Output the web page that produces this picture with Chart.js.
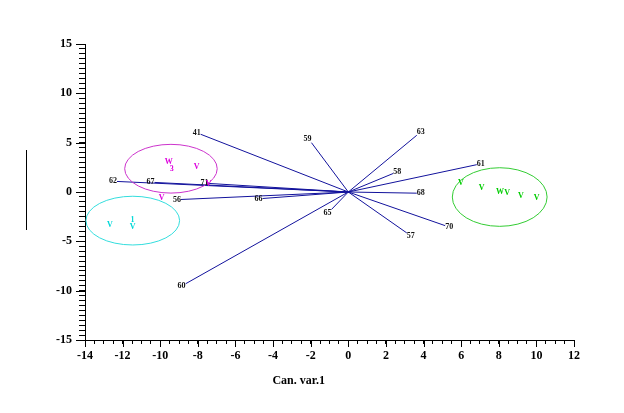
<!DOCTYPE html>
<html>
<head>
<meta charset="utf-8">
<script src="https://cdn.jsdelivr.net/npm/chart.js@4.4.0/dist/chart.umd.min.js"></script>
<style>
  body { margin: 0; background: #fff; }
</style>
</head>
<body>
<canvas id="can_chart" width="624" height="413"></canvas>
<script>
// vectors from the origin (variable loadings)
const vectorLabels = ['41', '59', '63', '58', '61', '68', '70', '57', '65', '60', '66', '56', '62', '67', '71'];
const vectorX = [-7.85, -1.96, 3.64, 2.39, 6.83, 3.64, 5.15, 3.11, -0.9, -8.65, -4.56, -8.9, -12.3, -10.3, -7.43];
const vectorY = [5.85, 5.0, 5.75, 1.88, 2.77, -0.12, -3.41, -4.15, -1.78, -9.3, -0.66, -0.76, 1.07, 0.97, 0.87];

// group scores, drawn as letters
const magentaX = [-9.55, -9.39, -8.06, -9.92, -7.43];
const magentaY = [3.0, 2.29, 2.59, -0.56, 0.86];
const magentaSym = ['W', '3', 'V', 'V', 'V'];

const cyanX = [-12.68, -11.47, -11.47];
const cyanY = [-3.31, -2.83, -3.58];
const cyanSym = ['V', '1', 'V'];

const greenX = [5.98, 7.09, 8.06, 8.45, 9.18, 10.01];
const greenY = [0.94, 0.39, -0.02, -0.05, -0.43, -0.63];
const greenSym = ['V', 'V', 'W', 'V', 'V', 'V'];

// confidence circles (data units)
const ellipseCX = [-9.43, -11.46, 8.05];
const ellipseCY = [2.36, -2.9, -0.51];
const ellipseRX = [2.46, 2.49, 2.52];
const ellipseRY = [2.47, 2.47, 2.97];
const ellipseColors = ['#cc33cc', '#33dddd', '#33cc33'];

const xMin = -14, xMax = 12, yMin = -15, yMax = 15;
const xTitle = 'Can. var.1';

const serif = '"Liberation Serif", "DejaVu Serif", serif';

function pts(xs, ys) {
  return xs.map((x, i) => ({ x: x, y: ys[i] }));
}

let datasets = [];
vectorLabels.forEach((lab, i) => {
  datasets.push({
    type: 'line',
    label: lab,
    data: [{ x: 0, y: 0 }, { x: vectorX[i], y: vectorY[i] }],
    borderColor: '#12129c',
    borderWidth: 1,
    pointRadius: 0,
    fill: false,
    vector: true
  });
});
datasets.push({ label: 'g1', data: pts(magentaX, magentaY), sym: magentaSym, color: '#dd00dd', pointRadius: 0 });
datasets.push({ label: 'g2', data: pts(cyanX, cyanY), sym: cyanSym, color: '#00d8d8', pointRadius: 0 });
datasets.push({ label: 'g3', data: pts(greenX, greenY), sym: greenSym, color: '#00cc00', pointRadius: 0 });

const extras = {
  id: 'extras',
  afterDatasetsDraw(chart) {
    const { ctx, chartArea: { left, right, top, bottom }, scales: { x, y } } = chart;
    ctx.save();

    // ellipses
    ellipseCX.forEach((cx, i) => {
      const px = x.getPixelForValue(cx), py = y.getPixelForValue(ellipseCY[i]);
      const rx = Math.abs(x.getPixelForValue(cx + ellipseRX[i]) - px);
      const ry = Math.abs(y.getPixelForValue(ellipseCY[i] + ellipseRY[i]) - py);
      ctx.beginPath();
      ctx.ellipse(px, py, rx, ry, 0, 0, Math.PI * 2);
      ctx.strokeStyle = ellipseColors[i];
      ctx.lineWidth = 1;
      ctx.stroke();
    });

    // vector labels
    ctx.font = 'bold 8px ' + serif;
    ctx.fillStyle = '#111';
    ctx.textBaseline = 'middle';
    vectorLabels.forEach((lab, i) => {
      const ex = x.getPixelForValue(vectorX[i]), ey = y.getPixelForValue(vectorY[i]);
      const ox = x.getPixelForValue(0), oy = y.getPixelForValue(0);
      const len = Math.hypot(ex - ox, ey - oy);
      const uy = (ey - oy) / len;
      ctx.textAlign = ex >= ox ? 'left' : 'right';
      ctx.fillText(lab, ex, ey + uy * 5);
    });

    // group letters
    ctx.font = 'bold 8px ' + serif;
    ctx.textAlign = 'center';
    chart.data.datasets.forEach((ds, di) => {
      if (!ds.sym) return;
      const meta = chart.getDatasetMeta(di);
      ctx.fillStyle = ds.color;
      meta.data.forEach((el, j) => {
        ctx.fillText(ds.sym[j], el.x, el.y);
      });
    });

    // longer major ticks
    ctx.strokeStyle = '#000';
    ctx.lineWidth = 1;
    ctx.beginPath();
    for (let v = xMin; v <= xMax; v += 2) {
      const px = Math.round(x.getPixelForValue(v)) + 0.5;
      ctx.moveTo(px, bottom);
      ctx.lineTo(px, bottom + 7);
    }
    for (let v = yMin; v <= yMax; v += 5) {
      const py = Math.round(y.getPixelForValue(v)) + 0.5;
      ctx.moveTo(left, py);
      ctx.lineTo(left - 9, py);
    }
    ctx.stroke();

    // axis title
    ctx.font = 'bold 12px ' + serif;
    ctx.fillStyle = '#000';
    ctx.textAlign = 'center';
    ctx.fillText(xTitle, left + (right - left) * 0.437, bottom + 41);

    // left marker line (y title rendered as a bar)
    ctx.beginPath();
    ctx.moveTo(26.5, top + 106);
    ctx.lineTo(26.5, top + 186);
    ctx.stroke();

    ctx.restore();
  }
};

new Chart(
  document.getElementById('can_chart'),
  {
    type: 'scatter',
    data: { datasets: datasets },
    options: {
      responsive: false,
      animation: false,
      layout: { padding: { top: 44, right: 50, left: 0, bottom: 0 } },
      plugins: {
        legend: { display: false },
        tooltip: { enabled: false }
      },
      scales: {
        x: {
          type: 'linear',
          min: xMin,
          max: xMax,
          afterFit: s => { s.height = 73; },
          border: { color: '#000', width: 1 },
          grid: { drawOnChartArea: false, drawTicks: true, tickLength: 4, color: '#000' },
          ticks: {
            stepSize: 0.5,
            autoSkip: false,
            maxRotation: 0,
            padding: 5,
            color: '#000',
            font: { family: serif, size: 12, weight: 'bold' },
            callback: v => (v % 2 === 0 ? v : '')
          }
        },
        y: {
          type: 'linear',
          min: yMin,
          max: yMax,
          afterFit: s => { s.width = 85; },
          border: { color: '#000', width: 1 },
          grid: { drawOnChartArea: false, drawTicks: true, tickLength: 6, color: '#000' },
          ticks: {
            stepSize: 0.5,
            autoSkip: false,
            padding: 7,
            color: '#000',
            font: { family: serif, size: 12, weight: 'bold' },
            callback: v => (v % 5 === 0 ? v : '')
          }
        }
      }
    },
    plugins: [extras]
  });
</script>
</body>
</html>
